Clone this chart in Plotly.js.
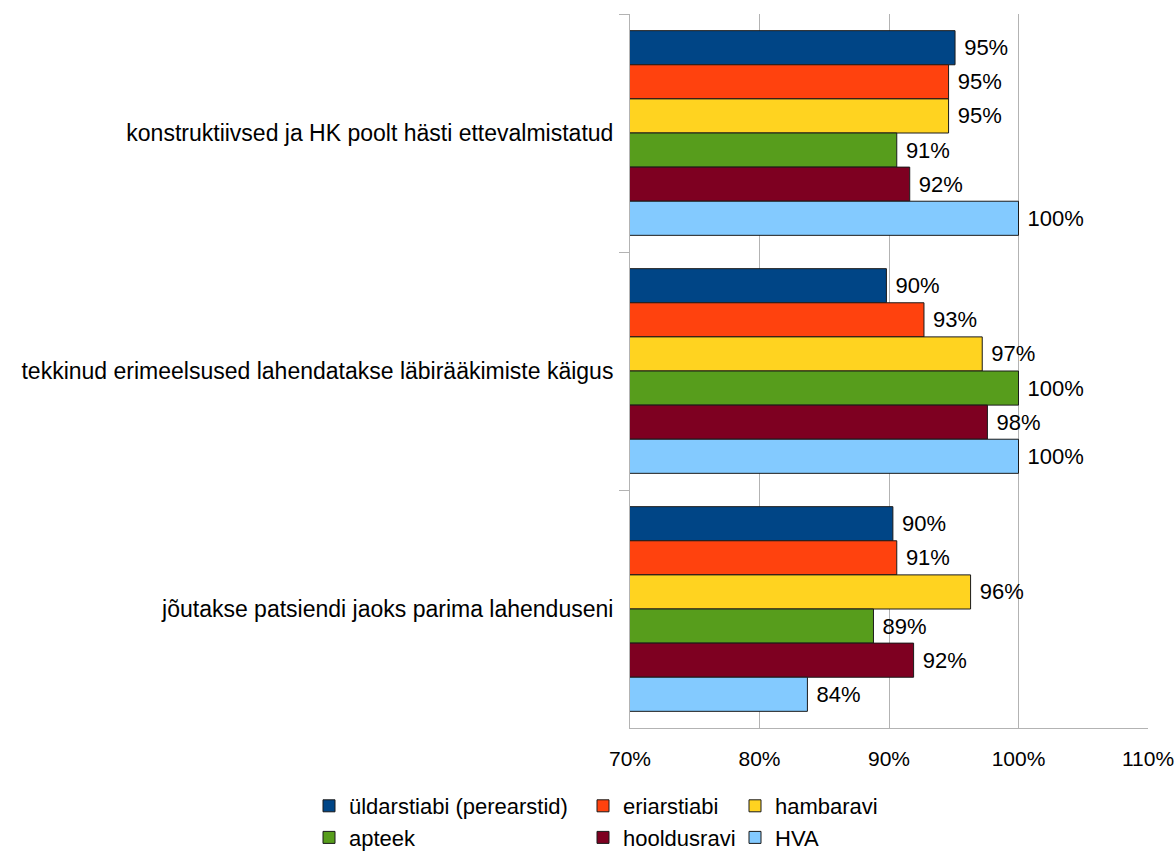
<!DOCTYPE html>
<html>
<head>
<meta charset="utf-8">
<script src="https://cdn.plot.ly/plotly-3.0.1.min.js"></script>
<style>html,body{margin:0;padding:0;background:#fff;}#chart{width:1176px;height:852px;}</style>
</head>
<body>
<div id="chart"></div>
<script>
const categories = [
  "konstruktiivsed ja HK poolt hästi ettevalmistatud",
  "tekkinud erimeelsused lahendatakse läbirääkimiste käigus",
  "jõutakse patsiendi jaoks parima lahenduseni"
];
const seriesNames = ["üldarstiabi (perearstid)", "eriarstiabi", "hambaravi", "apteek", "hooldusravi", "HVA"];
const uldarstiabi = [0.951, 0.898, 0.903];
const eriarstiabi = [0.946, 0.927, 0.906];
const hambaravi   = [0.946, 0.972, 0.963];
const apteek      = [0.906, 1.000, 0.888];
const hooldusravi = [0.916, 0.976, 0.919];
const hva         = [1.000, 1.000, 0.837];
const xTicks = [0.7, 0.8, 0.9, 1.0, 1.1];

const seriesValues = [uldarstiabi, eriarstiabi, hambaravi, apteek, hooldusravi, hva];
const colors = ["#004586", "#ff420e", "#ffd320", "#579d1c", "#7e0021", "#83caff"];
const legendOf = ["legend", "legend2", "legend3", "legend", "legend2", "legend3"];
const FONT = "Liberation Sans, Arial, sans-serif";

const traces = seriesNames.map((name, i) => ({
  type: "bar",
  orientation: "h",
  name: name,
  y: categories,
  x: seriesValues[i],
  marker: {color: colors[i], line: {color: "#1a1a1a", width: 1}},
  texttemplate: "\u00a0%{x:.0%}",
  textposition: "outside",
  constraintext: "none",
  cliponaxis: false,
  textfont: {family: FONT, size: 22, color: "#000"},
  legend: legendOf[i],
  hoverinfo: "x+name"
}));

const legendBase = {
  orientation: "v",
  xref: "container", yref: "container",
  xanchor: "left", yanchor: "top",
  y: 67 / 852,
  font: {family: FONT, size: 22, color: "#000"},
  bgcolor: "rgba(0,0,0,0)",
  tracegroupgap: 0,
  itemclick: false, itemdoubleclick: false
};

const layout = {
  width: 1176, height: 852,
  paper_bgcolor: "#fff", plot_bgcolor: "#fff",
  font: {family: FONT, size: 21, color: "#000"},
  margin: {l: 630, r: 28, t: 14, b: 124, pad: 0, autoexpand: false},
  barmode: "group",
  bargap: 0.14,
  bargroupgap: 0,
  xaxis: {
    range: [0.7, 1.1],
    tickvals: xTicks,
    tickformat: ".0%",
    showgrid: true, gridcolor: "#b3b3b3", gridwidth: 1,
    showline: true, linecolor: "#b3b3b3", linewidth: 1,
    zeroline: false,
    ticks: "outside", ticklen: 12, tickcolor: "rgba(0,0,0,0)",
    tickfont: {family: FONT, size: 21, color: "#000"},
    automargin: false,
    fixedrange: true
  },
  yaxis: {
    type: "category",
    autorange: "reversed",
    tickson: "boundaries",
    ticks: "outside", ticklen: 10, tickcolor: "#b3b3b3", tickwidth: 1,
    showgrid: false,
    showline: true, linecolor: "#b3b3b3", linewidth: 1,
    ticklabelstandoff: 11,
    tickfont: {family: FONT, size: 23, color: "#000"},
    automargin: false,
    fixedrange: true
  },
  legend:  Object.assign({}, legendBase, {x: 309 / 1176}),
  legend2: Object.assign({}, legendBase, {x: 583 / 1176}),
  legend3: Object.assign({}, legendBase, {x: 735 / 1176}),
  showlegend: true
};

Plotly.newPlot("chart", traces, layout, {displayModeBar: false, staticPlot: true});
</script>
</body>
</html>
